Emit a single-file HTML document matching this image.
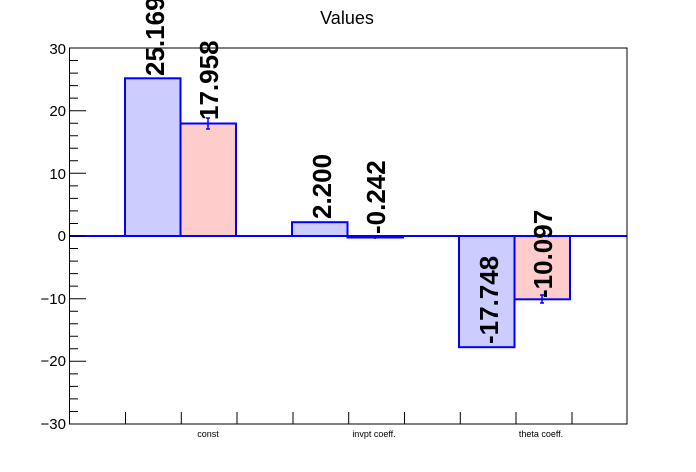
<!DOCTYPE html>
<html><head><style>body{margin:0;background:#fff}svg{display:block}</style></head><body>
<svg width="696" height="472" xmlns="http://www.w3.org/2000/svg" font-family="Liberation Sans, sans-serif">
<rect width="696" height="472" fill="#fff"/>
<text x="347" y="24" font-size="18" text-anchor="middle">Values</text>
<line x1="69" y1="236" x2="627" y2="236" stroke="#00f" stroke-width="2"/>
<g stroke="#00f" stroke-width="2">
<rect x="125" y="78.3" width="55.5" height="157.7" fill="#ccccff"/>
<rect x="180.5" y="123.5" width="55.5" height="112.5" fill="#ffcccc"/>
<rect x="292" y="222.2" width="55.5" height="13.8" fill="#ccccff"/>
<rect x="347.5" y="236" width="55.5" height="1.5" fill="#ffcccc"/>
<rect x="459" y="236" width="55.5" height="111.2" fill="#ccccff"/>
<rect x="514.5" y="236" width="55.5" height="63.3" fill="#ffcccc"/>
<path d="M208 118V129M206 118H210M206 129H210M542 295V303M540 295H544M540 303H544M375 235V239" stroke-width="1.5" fill="none"/>
</g>
<g font-size="26" font-weight="bold">
<text transform="translate(164,76) rotate(-90)">25.169</text>
<text transform="translate(218,120) rotate(-90)">17.958</text>
<text transform="translate(331,219) rotate(-90)">2.200</text>
<text transform="translate(385,234) rotate(-90)">-0.242</text>
<text transform="translate(498,344) rotate(-90)">-17.748</text>
<text transform="translate(552,298) rotate(-90)">-10.097</text>
</g>
<rect x="69.5" y="48" width="557.5" height="376" fill="none" stroke="#000" stroke-width="1"/>
<g stroke="#000" stroke-width="1">
<path d="M69.5 48H86M69.5 110.7H86M69.5 173.3H86M69.5 236H86M69.5 298.7H86M69.5 361.3H86M69.5 424H86"/>
<path d="M69.5 60.5H78M69.5 73.1H78M69.5 85.6H78M69.5 98.1H78M69.5 123.2H78M69.5 135.7H78M69.5 148.3H78M69.5 160.8H78M69.5 185.9H78M69.5 198.4H78M69.5 210.9H78M69.5 223.5H78M69.5 248.5H78M69.5 261.1H78M69.5 273.6H78M69.5 286.1H78M69.5 311.2H78M69.5 323.7H78M69.5 336.3H78M69.5 348.8H78M69.5 373.9H78M69.5 386.4H78M69.5 398.9H78M69.5 411.5H78"/>
<path d="M125.5 424V412M181.3 424V412M237 424V412M293 424V412M348.7 424V412M404.5 424V412M460.3 424V412M516 424V412M572 424V412"/>
</g>
<g font-size="15" text-anchor="end">
<text x="66" y="54">30</text><text x="66" y="116">20</text><text x="66" y="179">10</text><text x="66" y="241">0</text>
<text x="66" y="304">−10</text><text x="66" y="366">−20</text><text x="66" y="429">−30</text>
</g>
<g font-size="9" text-anchor="middle">
<text x="208" y="437">const</text><text x="374" y="437">invpt coeff.</text><text x="541" y="437">theta coeff.</text>
</g>
</svg>
</body></html>
